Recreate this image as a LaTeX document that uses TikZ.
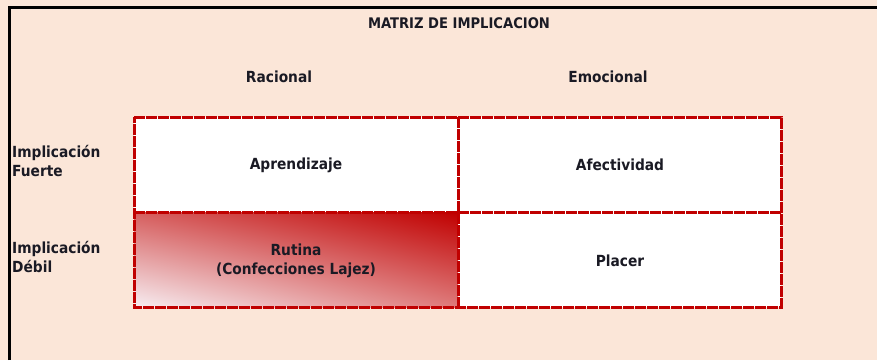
\documentclass[tikz,border=0pt]{standalone}
\usepackage{fontspec}
\usetikzlibrary{shadings}
\setmainfont{DejaVu Sans Condensed}
\definecolor{bgpeach}{HTML}{FBE6D8}
\definecolor{gridred}{HTML}{C00000}
\definecolor{midred}{HTML}{D65F5F}
\definecolor{brred}{HTML}{DE7A7A}
\definecolor{lowred}{HTML}{F7EEF2}
\definecolor{txt}{HTML}{1A1A24}
\tikzset{
  lbl/.style={font=\fontsize{15.3}{18}\selectfont\bfseries, text=txt, inner sep=0pt},
  sidelbl/.style={lbl, anchor=west, align=left},
  celllbl/.style={lbl, align=center},
  gridline/.style={draw=gridred, line width=3pt, dash pattern=on 11pt off 1pt},
}
\begin{document}
\begin{tikzpicture}[x=1pt,y=-1pt]
\useasboundingbox (0,0) rectangle (877,360);
\fill[bgpeach] (0,0) rectangle (877,360);
% frame: left and top only
\draw[black, line width=3pt] (9,360) -- (9,7) -- (877,7);
% cells
\fill[white] (134,117) rectangle (781,307);
\shade[upper right=gridred, lower left=lowred, upper left=midred, lower right=brred] (134,212) rectangle (458,307);
% grid
\coordinate (tl) at (134,117);
\coordinate (tm) at (458,117);
\coordinate (tr) at (781,117);
\coordinate (ml) at (134,212);
\coordinate (mr) at (781,212);
\coordinate (bl) at (134,307);
\coordinate (bm) at (458,307);
\coordinate (br) at (781,307);
\draw[gridline] (tl) -- (tr) -- (br) -- (bl) -- cycle;
\draw[gridline] (tm) -- (bm);
\draw[gridline] (ml) -- (mr);
% texts
\node[lbl, font=\fontsize{14.6}{17}\selectfont\bfseries] (title) at (459,23) {MATRIZ DE IMPLICACION};
\node[celllbl] (rac) at (279,77) {Racional};
\node[celllbl] (emo) at (608,77) {Emocional};
\node[sidelbl] (fuerte) at (12,161) {Implicación\\[1pt]Fuerte};
\node[sidelbl] (debil) at (12,257) {Implicación\\[1pt]Débil};
\node[celllbl] (apr) at (296,165) {Aprendizaje};
\node[celllbl] (afe) at (620,165) {Afectividad};
\node[celllbl] (rut) at (296,261) {Rutina\\[1pt](Confecciones Lajez)};
\node[celllbl] (pla) at (620,261) {Placer};
\end{tikzpicture}
\end{document}
